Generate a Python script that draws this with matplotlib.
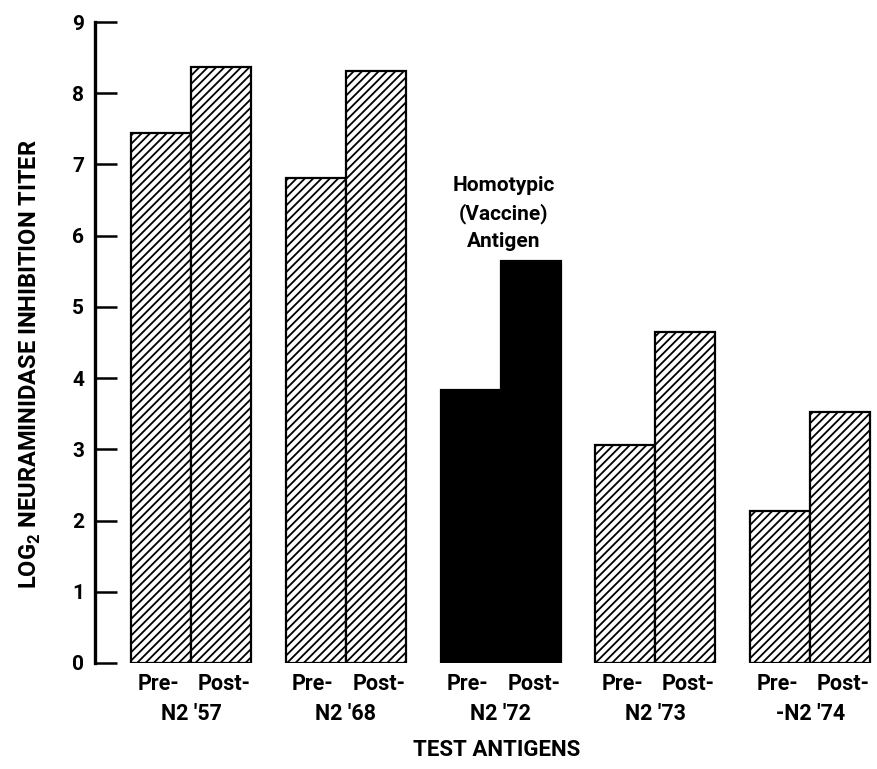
import matplotlib
matplotlib.use("Agg")
import matplotlib.pyplot as plt
import matplotlib.transforms as mtransforms
import numpy as np

antigens = ["N2 '57", "N2 '68", "N2 '72", "N2 '73", "-N2 '74"]
pre = [7.44, 6.81, 3.83, 3.06, 2.13]
post = [8.37, 8.31, 5.65, 4.65, 3.53]
homotypic = 2  # index of the vaccine antigen
y_ticks = list(range(10))

plt.rcParams['font.family'] = ['Roboto', 'DejaVu Sans']
plt.rcParams['mathtext.fontset'] = 'custom'
plt.rcParams['mathtext.rm'] = 'Roboto:bold'
plt.rcParams['hatch.linewidth'] = 1.3

fig = plt.figure(figsize=(8.77, 7.69), dpi=100)
ax = fig.add_axes([95 / 877, 106 / 769, 780 / 877, 641 / 769])

centers = 1.6 + 2.58 * np.arange(len(antigens))
for i, c in enumerate(centers):
    solid = i == homotypic
    for x, h in ((c - 0.5, pre[i]), (c + 0.5, post[i])):
        ax.bar(x, h, width=1.0, color="black" if solid else "white",
               edgecolor="black", linewidth=1.6,
               hatch=None if solid else "////")

ax.set_xlim(0, 13)
ax.set_ylim(0, 9)
ax.set_yticks(y_ticks)
ax.set_yticklabels([str(t) for t in y_ticks], fontsize=15, fontweight="bold")
ax.set_xticks([])
for s in ("top", "right", "bottom"):
    ax.spines[s].set_visible(False)
ax.spines["left"].set_linewidth(2.4)
ax.tick_params(axis="y", direction="in", length=16, width=1.8, pad=8)

trans = mtransforms.blended_transform_factory(ax.transData, fig.transFigure)
for i, c in enumerate(centers):
    ax.text(c - 0.55, 1 - 684 / 769, "Pre-", transform=trans, ha="center",
            va="center", fontsize=15.5, fontweight="bold")
    ax.text(c + 0.55, 1 - 684 / 769, "Post-", transform=trans, ha="center",
            va="center", fontsize=15.5, fontweight="bold")
    ax.text(c, 1 - 714 / 769, antigens[i], transform=trans,
            ha="center", va="center", fontsize=15.5, fontweight="bold")

ax.text(centers[homotypic] + 0.05, post[homotypic] + 0.66, "Homotypic\n(Vaccine)\nAntigen",
        ha="center", va="center", fontsize=15, fontweight="bold", linespacing=1.5)

fig.text(497 / 877, 1 - 750 / 769, "TEST ANTIGENS", ha="center", va="center",
         fontsize=16, fontweight="bold")
fig.text(30 / 877, 1 - 364 / 769, "LOG$_2$ NEURAMINIDASE INHIBITION TITER",
         rotation=90, ha="center", va="center", fontsize=17, fontweight="bold")

fig.savefig("out.png", dpi=100)
